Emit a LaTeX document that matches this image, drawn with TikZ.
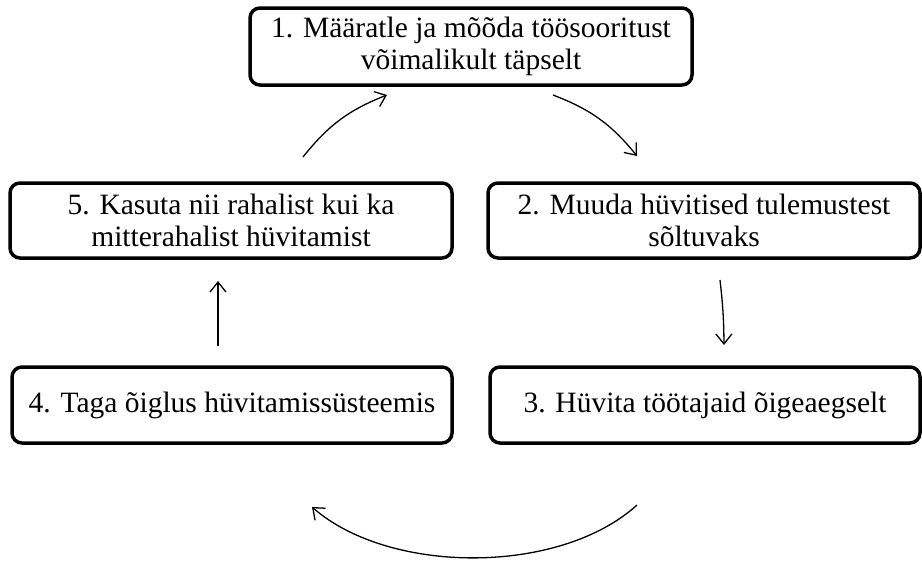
\documentclass[tikz,border=0pt]{standalone}
\usepackage{fontspec}
\setmainfont{Liberation Serif}
\usetikzlibrary{arrows.meta}
\begin{document}
\begin{tikzpicture}[x=1pt,y=-1pt,
  stepbox/.style={draw,line width=3.5pt,rounded corners=10pt,align=center,
    font=\fontsize{29.5}{31.5}\selectfont,inner sep=0pt},
  conn/.style={line width=1.3pt,-{Straight Barb[length=10pt,width=16pt,line width=1.3pt]}}]
\useasboundingbox (0,0) rectangle (922,562);
\node[stepbox,minimum width=442pt,minimum height=77pt] (b1) at (471,46.5) {1. Määratle ja mõõda töösooritust\\võimalikult täpselt};
\node[stepbox,minimum width=442pt,minimum height=75pt] (b5) at (231,220.5) {5. Kasuta nii rahalist kui ka\\mitterahalist hüvitamist};
\node[stepbox,minimum width=432pt,minimum height=75pt] (b2) at (704,220.5) {2. Muuda hüvitised tulemustest\\sõltuvaks};
\node[stepbox,minimum width=440pt,minimum height=76pt] (b4) at (232,405) {4. Taga õiglus hüvitamissüsteemis};
\node[stepbox,minimum width=430pt,minimum height=76pt] (b3) at (705,405) {3. Hüvita töötajaid õigeaegselt};
\coordinate (a51s) at (303,157);
\coordinate (a51e) at (387,95);
\coordinate (a12s) at (553,95);
\coordinate (a12e) at (637,156);
\coordinate (a23s) at (720,280);
\coordinate (a23e) at (724,345);
\coordinate (a34s) at (637,505);
\coordinate (a34e) at (312,507);
\coordinate (a45s) at (218,346);
\coordinate (a45e) at (218,281);
\draw[conn] (a51s) to[bend left=15] (a51e);
\draw[conn] (a12s) to[bend left=15] (a12e);
\draw[conn] (a23s) to[bend left=3] (a23e);
\draw[conn] (a34s) .. controls (560,575) and (390,575) .. (a34e);
\draw[conn] (a45s) -- (a45e);
\end{tikzpicture}
\end{document}
